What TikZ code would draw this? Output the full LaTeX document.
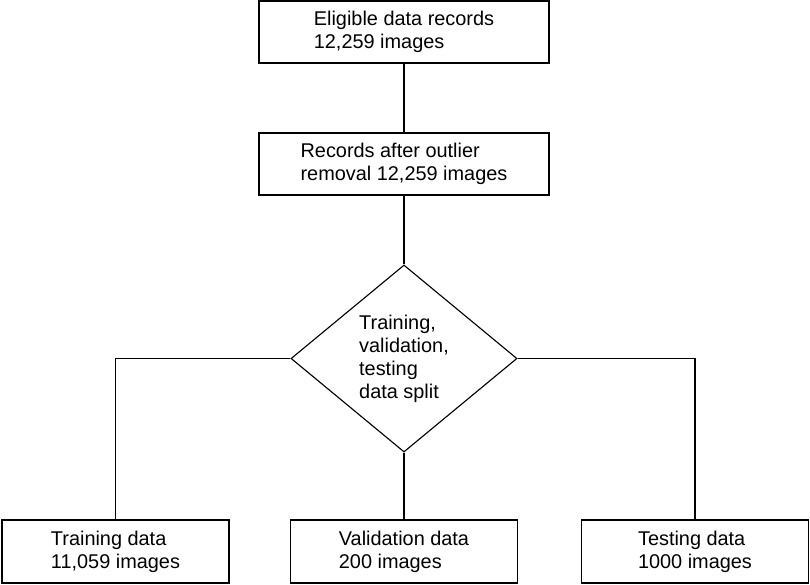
\documentclass[tikz,border=0pt]{standalone}
\usepackage{fontspec}
\setmainfont{Liberation Sans}
\usepackage{tikz}
\usetikzlibrary{shapes.geometric,positioning,calc}

\begin{document}
\begin{tikzpicture}[x=0.025cm,y=-0.025cm,
  every node/.style={font=\fontsize{14.15}{16.4}\selectfont,align=left,inner sep=0pt},
  recbox/.style={draw,line width=0.8pt,minimum width=7.25cm,minimum height=1.55cm},
  outbox/.style={draw,line width=0.8pt,minimum width=5.675cm,minimum height=1.575cm},
  splitbox/.style={draw,diamond,line width=0.8pt,minimum width=5.65cm,minimum height=4.675cm},
  link/.style={line width=0.8pt}]
\useasboundingbox (0,0) rectangle (810,585);
% records
\node [recbox] (elig) at (404,32) {Eligible data records\\12,259 images};
\node [recbox] (clean) at (404,164) {Records after outlier\\removal 12,259 images};
% split
\node [splitbox] (split) at (404,358.5) {Training,\\validation,\\testing\\data split};
% outputs
\node [outbox] (train) at (115.5,551.5) {Training data\\11,059 images};
\node [outbox] (valid) at (404,551.5) {Validation data\\200 images};
\node [outbox] (test) at (695,551.5) {Testing data\\1000 images};
\draw [link] (elig) -- (clean);
\draw [link] (clean) -- (split);
\draw [link] (split) -- (valid);
\draw [link] (split.west) -| (train.north);
\draw [link] (split.east) -| (test.north);
\end{tikzpicture}
\end{document}
